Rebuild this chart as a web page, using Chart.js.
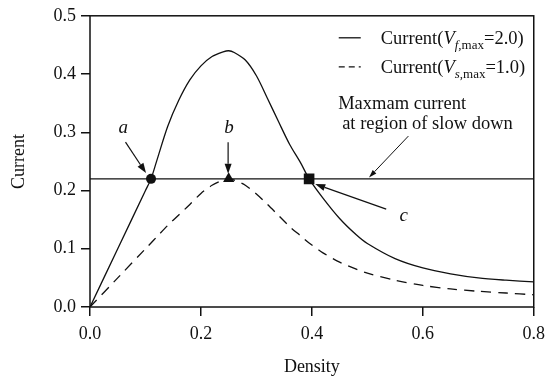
<!DOCTYPE html>
<html>
<head>
<meta charset="utf-8">
<script src="https://cdn.jsdelivr.net/npm/chart.js@4.4.1/dist/chart.umd.min.js"></script>
<style>
  html, body { margin: 0; padding: 0; background: #fff; }
  #wrap { width: 552px; height: 381px; }
</style>
</head>
<body>
<div id="wrap"><canvas id="chart" width="552" height="381"></canvas></div>
<script>
// density-current curves
const density = [0, 0.05, 0.1, 0.11, 0.12, 0.14, 0.16, 0.18, 0.2, 0.22, 0.24, 0.25, 0.26, 0.28, 0.3,
                 0.32, 0.34, 0.36, 0.38, 0.395, 0.42, 0.45, 0.48, 0.5, 0.55, 0.6, 0.65, 0.7, 0.75, 0.8];
const currentFast = [0, 0.10, 0.20, 0.22, 0.25, 0.31, 0.355, 0.39, 0.414, 0.43, 0.438, 0.44, 0.437, 0.424, 0.397,
                     0.358, 0.318, 0.279, 0.247, 0.22, 0.187, 0.152, 0.124, 0.109, 0.083, 0.067, 0.057, 0.050, 0.046, 0.043];
const currentSlow = [0, 0.05, 0.10, 0.11, 0.12, 0.14, 0.158, 0.176, 0.195, 0.209, 0.218, 0.22, 0.218, 0.209, 0.194,
                     0.176, 0.157, 0.138, 0.122, 0.11, 0.093, 0.077, 0.065, 0.058, 0.046, 0.037, 0.031, 0.027, 0.024, 0.021];

// max current at region of slow down + marked points a, b, c
const maxCurrent = 0.22;
const markerDensity = [0.11, 0.25, 0.395];
const markerStyles = ['circle', 'triangle', 'rect'];
const markerSizes = [5, 6.5, 7.5];

const xTicks = [0, 0.2, 0.4, 0.6, 0.8];
const yTicks = [0, 0.1, 0.2, 0.3, 0.4, 0.5];

const SERIF = "'Liberation Serif', 'Times New Roman', serif";
const INK = '#111';

function toPoints(xs, ys) {
  return xs.map((x, i) => ({ x: x, y: ys[i] }));
}

function arrow(ctx, x1, y1, x2, y2, len, wid) {
  const ang = Math.atan2(y2 - y1, x2 - x1);
  const bx = x2 - Math.cos(ang) * len;
  const by = y2 - Math.sin(ang) * len;
  ctx.beginPath();
  ctx.moveTo(x1, y1);
  ctx.lineTo(bx, by);
  ctx.stroke();
  ctx.beginPath();
  ctx.moveTo(x2, y2);
  ctx.lineTo(bx + Math.sin(ang) * wid / 2, by - Math.cos(ang) * wid / 2);
  ctx.lineTo(bx - Math.sin(ang) * wid / 2, by + Math.cos(ang) * wid / 2);
  ctx.closePath();
  ctx.fill();
}

// text pieces: [text, font, baseline shift]
function richText(ctx, x, y, parts) {
  ctx.textAlign = 'left';
  ctx.textBaseline = 'alphabetic';
  parts.forEach(p => {
    ctx.font = p[1];
    ctx.fillText(p[0], x, y + (p[2] || 0));
    x += ctx.measureText(p[0]).width;
  });
}

const extras = {
  id: 'extras',
  afterDraw(chart) {
    const ctx = chart.ctx;
    const a = chart.chartArea;
    const xs = chart.scales.x, ys = chart.scales.y;
    const px = v => xs.getPixelForValue(v);
    const py = v => ys.getPixelForValue(v);

    ctx.save();
    ctx.strokeStyle = INK;
    ctx.fillStyle = INK;

    // frame
    ctx.lineWidth = 1.5;
    ctx.strokeRect(a.left, a.top, a.right - a.left, a.bottom - a.top);

    // axis titles
    ctx.font = '18px ' + SERIF;
    ctx.textAlign = 'center';
    ctx.textBaseline = 'alphabetic';
    ctx.fillText('Density', (a.left + a.right) / 2, 372);
    ctx.save();
    ctx.translate(24, (a.top + a.bottom) / 2);
    ctx.rotate(-Math.PI / 2);
    ctx.fillText('Current', 0, 0);
    ctx.restore();

    // legend
    const lx = a.right - 195, ly = a.top + 22;
    ctx.lineWidth = 1.3;
    ctx.beginPath();
    ctx.moveTo(lx, ly);
    ctx.lineTo(lx + 22, ly);
    ctx.stroke();
    ctx.setLineDash([6, 4]);
    ctx.beginPath();
    ctx.moveTo(lx, ly + 29);
    ctx.lineTo(lx + 22, ly + 29);
    ctx.stroke();
    ctx.setLineDash([]);
    const reg = '18.5px ' + SERIF, ita = 'italic 18.5px ' + SERIF;
    const sReg = '13px ' + SERIF, sIta = 'italic 13px ' + SERIF;
    richText(ctx, lx + 42, ly + 6, [['Current(', reg], ['V', ita], ['f', sIta, 5], [',max', sReg, 5], ['=2.0)', reg]]);
    richText(ctx, lx + 42, ly + 35, [['Current(', reg], ['V', ita], ['s', sIta, 5], [',max', sReg, 5], ['=1.0)', reg]]);

    // note on the max current line
    ctx.font = reg;
    ctx.textAlign = 'left';
    ctx.fillText('Maxmam current', px(0.4474), py(0.3396));
    ctx.fillText('at region of slow down', px(0.4546), py(0.3055));
    ctx.lineWidth = 1;
    arrow(ctx, px(0.574), py(0.2935), px(0.503), py(0.2224), 8, 5);

    // point labels
    ctx.font = 'italic 19px ' + SERIF;
    ctx.textAlign = 'center';
    ctx.fillText('a', px(0.060), py(0.2986));
    ctx.fillText('b', px(0.2506), py(0.2986));
    ctx.fillText('c', px(0.5655), py(0.1485));
    ctx.lineWidth = 1.2;
    arrow(ctx, px(0.064), py(0.283), px(0.101), py(0.230), 10, 7);
    arrow(ctx, px(0.249), py(0.283), px(0.249), py(0.229), 10, 7);
    arrow(ctx, px(0.534), py(0.168), px(0.406), py(0.211), 10, 7);

    ctx.restore();
  }
};

const tickFont = { family: SERIF, size: 18 };

new Chart(document.getElementById('chart'), {
  type: 'line',
  data: {
    datasets: [
      {
        label: 'Current(Vf,max=2.0)',
        data: toPoints(density, currentFast),
        borderColor: INK,
        borderWidth: 1.3,
        pointRadius: 0,
        tension: 0.3
      },
      {
        label: 'Current(Vs,max=1.0)',
        data: toPoints(density, currentSlow),
        borderColor: INK,
        borderWidth: 1.3,
        borderDash: [10, 7],
        pointRadius: 0,
        tension: 0.3
      },
      {
        label: 'Maxmam current',
        data: toPoints([xTicks[0], xTicks[xTicks.length - 1]], [maxCurrent, maxCurrent]),
        borderColor: INK,
        borderWidth: 1.3,
        pointRadius: 0
      },
      {
        label: 'points',
        data: toPoints(markerDensity, markerDensity.map(() => maxCurrent)),
        showLine: false,
        pointStyle: markerStyles,
        pointRadius: markerSizes,
        pointBackgroundColor: INK,
        pointBorderColor: INK,
        pointBorderWidth: 0
      }
    ]
  },
  options: {
    responsive: false,
    animation: false,
    layout: { padding: { top: 14, right: 14, left: 0, bottom: 0 } },
    plugins: {
      legend: { display: false },
      tooltip: { enabled: false }
    },
    scales: {
      x: {
        type: 'linear',
        min: 0,
        max: 0.8,
        afterBuildTicks: s => { s.ticks = xTicks.map(v => ({ value: v })); },
        afterFit: s => { s.height = 74; },
        grid: { drawOnChartArea: false, drawTicks: true, tickLength: 9, color: INK, lineWidth: 1.5 },
        border: { display: false },
        ticks: { font: tickFont, color: INK, padding: 7, maxRotation: 0, callback: v => v.toFixed(1) }
      },
      y: {
        min: 0,
        max: 0.5,
        afterBuildTicks: s => { s.ticks = yTicks.map(v => ({ value: v })); },
        afterFit: s => { s.width = 90; },
        grid: { drawOnChartArea: false, drawTicks: true, tickLength: 9, color: INK, lineWidth: 1.5 },
        border: { display: false },
        ticks: { font: tickFont, color: INK, padding: 5, callback: v => v.toFixed(1) }
      }
    }
  },
  plugins: [extras]
});
</script>
</body>
</html>
